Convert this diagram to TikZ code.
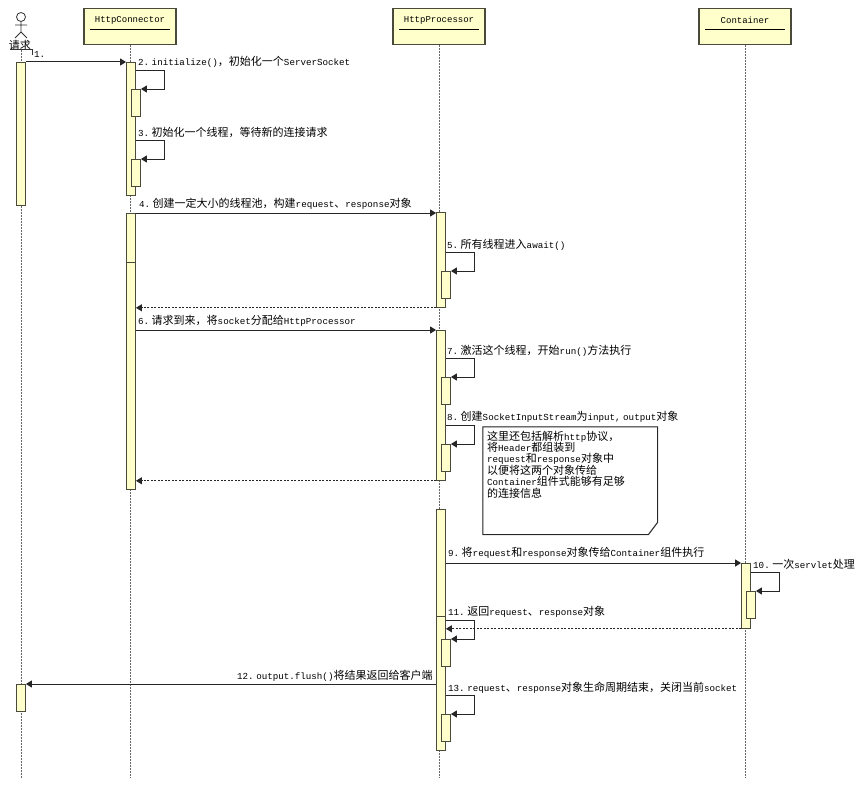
\documentclass[tikz,border=0pt]{standalone}
\usepackage{fontspec}
\setmainfont{Liberation Mono}
\newfontfamily\zhfont{Noto Sans CJK SC}
\newcommand{\zh}[1]{{\fontsize{11pt}{11pt}\zhfont #1}}
\newcommand{\gap}{\hspace{2.5pt}}
\usetikzlibrary{positioning, arrows.meta, calc}
\definecolor{barfill}{HTML}{FFFFCC}
\definecolor{edge}{HTML}{4A4A3A}

\begin{document}
\begin{tikzpicture}
        [
            x=1pt, y=-1pt,
            class/.style={rectangle, draw=edge, fill=barfill, line width=1.2pt,
                          minimum width=92pt, minimum height=36pt, anchor=north},
            classname/.style={inner sep=0pt, font=\fontsize{9pt}{9pt}\selectfont},
            life/.style={draw=black!60, line width=1pt, dash pattern=on 1.5pt off 1.5pt},
            bar/.style={rectangle, draw=edge, fill=barfill, line width=0.8pt, inner sep=0pt,
                        minimum width=9pt, minimum height=#1, anchor=north},
            msg/.style={draw=black!85, line width=1pt, -{Triangle[length=6pt,width=7pt]}},
            ret/.style={msg, dash pattern=on 2pt off 1.5pt},
            lab/.style={anchor=base west, inner sep=0pt, font=\fontsize{9.2pt}{11pt}\selectfont}
        ]
        \useasboundingbox [fill=white] (0,0) rectangle (864,784);

        \foreach \i/\xa/\txt in {c/130/HttpConnector, p/439/HttpProcessor, k/745/Container}{
            \node (h-\i) [class] at (\xa, 8) {};
            \node (n-\i) [classname] at (\xa, 20) {\txt};
            \coordinate (e-\i) at (\xa, 778);
            \draw [life] (h-\i) -- (e-\i);
            \draw [black] ([xshift=7pt,yshift=16pt]h-\i.south west) -- ([xshift=-7pt,yshift=16pt]h-\i.south east);
        }

        \node (head) [circle, draw=black!80, line width=0.8pt, minimum size=9pt, inner sep=0pt] at (21, 17) {};
        \coordinate (hip) at (21, 32);
        \coordinate (armL) at (15, 25);
        \coordinate (armR) at (27, 25);
        \coordinate (legL) at (15, 38);
        \coordinate (legR) at (27, 38);
        \draw [black!80, line width=0.8pt] (head) -- (hip) (armL) -- (armR) (legL) -- (hip) -- (legR);
        \node (actor) [inner sep=0pt] at (20, 45) {\zh{请求}};
        \coordinate (e-a) at (21, 778);
        \draw [life] (actor.south -| e-a) -- (e-a);
        \coordinate (tickA) at (10, 49);
        \coordinate (tickB) at (32, 49);
        \coordinate (tickC) at (32, 55);
        \draw [black!80, line width=0.6pt] (tickA) -- (tickB) -- (tickC);

        \foreach \i/\xa/\ya/\h in {a1/21/62/143, a2/21/684/27,
                                   c1/131/62/133, c2/131/213/49, c3/131/262/227,
                                   p1/441/212/95, p2/441/330/150, p3/441/509/107, p4/441/616/134,
                                   k1/746/563/65}{
            \node (\i) [bar=\h pt] at (\xa, \ya) {};
        }

        \foreach \i/\up/\xa/\ya in {s1/c1/136/89, s2/c1/136/159, s3/p1/446/271, s4/p2/446/377,
                                    s5/p2/446/444, s6/p4/446/639, s7/p4/446/714, s8/k1/751/591}{
            \node (\i) [bar=27pt] at (\xa, \ya) {};
            \coordinate (t-\i) at ([yshift=18.5pt]\i.north east);
            \draw [msg] (t-\i -| \up.east) -- ++(29, 0) |- (\i.north east);
        }

        \draw [msg] (a1.north east) -- (c1.north west);
        \draw [msg] (c2.north east) -- (c2.north east -| p1.west);
        \draw [ret] (p1.south west) -- (p1.south west -| c3.east);
        \draw [msg] (p2.north west -| c3.east) -- (p2.north west);
        \draw [ret] (p2.south west) -- (p2.south west -| c3.east);
        \draw [msg] (k1.north west -| p3.east) -- (k1.north west);
        \draw [ret] (k1.south west) -- (k1.south west -| p4.east);
        \draw [msg] (a2.north east -| p4.west) -- (a2.north east);

        \node (note) [rectangle, inner sep=0pt, minimum width=174pt, minimum height=107pt, anchor=north west] at (483, 427) {};
        \draw [draw=black!65, line width=1.4pt, fill=black!65, shift={(1,1)}]
            (note.north west) -- (note.north east) -- ([yshift=12pt]note.south east)
            -- ([xshift=-9pt]note.south east) -- (note.south west) -- cycle;
        \draw [draw=black!85, line width=0.8pt, fill=white]
            (note.north west) -- (note.north east) -- ([yshift=12pt]note.south east)
            -- ([xshift=-9pt]note.south east) -- (note.south west) -- cycle;
        \node (note-text) [inner sep=0pt, anchor=north west, align=left, below right=3.5pt and 4pt of note.north west,
                           font=\fontsize{9.2pt}{11.2pt}\selectfont]
            {\zh{这里还包括解析}http\zh{协议，}\\
             \zh{将}Header\zh{都组装到}\\
             request\zh{和}response\zh{对象中}\\
             \zh{以便将这两个对象传给}\\
             Container\zh{组件式能够有足够}\\
             \zh{的连接信息}};

        \node (l1) [lab] at (34, 57) {1.};
        \node (l2) [lab] at (138, 66) {2.\gap initialize()\zh{，初始化一个}ServerSocket};
        \node (l3) [lab] at (138, 136) {3.\gap\zh{初始化一个线程，等待新的连接请求}};
        \node (l4) [lab] at (139, 207) {4.\gap\zh{创建一定大小的线程池，构建}request\zh{、}response\zh{对象}};
        \node (l5) [lab] at (447, 248) {5.\gap\zh{所有线程进入}await()};
        \node (l6) [lab] at (138, 324) {6.\gap\zh{请求到来，将}socket\zh{分配给}HttpProcessor};
        \node (l7) [lab] at (447, 354) {7.\gap\zh{激活这个线程，开始}run()\zh{方法执行}};
        \node (l8) [lab] at (447, 420) {8.\gap\zh{创建}SocketInputStream\zh{为}input,\gap output\zh{对象}};
        \node (l9) [lab] at (448, 556) {9.\gap\zh{将}request\zh{和}response\zh{对象传给}Container\zh{组件执行}};
        \node (l10) [lab] at (753, 568) {10.\gap\zh{一次}servlet\zh{处理}};
        \node (l11) [lab] at (448, 615) {11.\gap\zh{返回}request\zh{、}response\zh{对象}};
        \node (l12) [lab] at (237, 679) {12.\gap output.flush()\zh{将结果返回给客户端}};
        \node (l13) [lab] at (448, 691) {13.\gap request\zh{、}response\zh{对象生命周期结束，关闭当前}socket};
    \end{tikzpicture}
\end{document}
